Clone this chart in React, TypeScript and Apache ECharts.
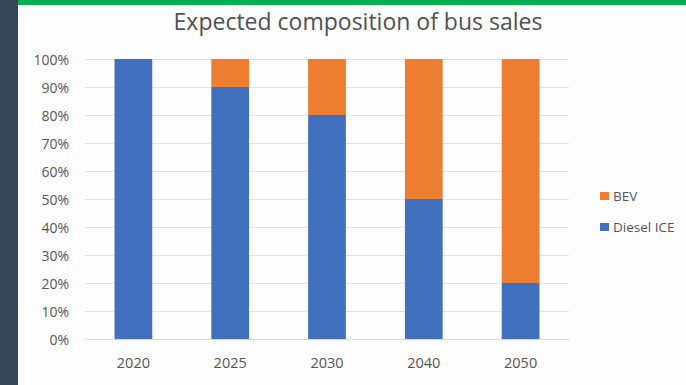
import React, { useEffect, useRef } from "react";
import * as echarts from "echarts";

const categories = ["2020", "2025", "2030", "2040", "2050"];
const dieselIce = [100, 90, 80, 50, 20];
const bev = [0, 10, 20, 50, 80];
const titleText = "Expected composition of bus sales";

export default function App() {
  const ref = useRef<HTMLDivElement>(null);
  useEffect(() => {
    if (!ref.current) return;
    const chart = echarts.init(ref.current, null, { renderer: "svg" });
    const font = "'Open Sans', 'Noto Sans', sans-serif";
    const textColor = "#555555";
    chart.setOption({
      animation: false,
      backgroundColor: "#fdfdfd",
      textStyle: { fontFamily: font },
      graphic: [
        { type: "rect", left: 0, top: 0, shape: { x: 0, y: 0, width: 686, height: 5 }, style: { fill: "#00b050" }, z: 10 },
        { type: "rect", left: 0, top: 0, shape: { x: 0, y: 0, width: 18, height: 385 }, style: { fill: "#37475a" }, z: 10 },
        {
          type: "text",
          x: 358,
          y: 21,
          style: {
            text: titleText,
            fontSize: 23,
            fontFamily: font,
            fill: "#505050",
            align: "center",
            verticalAlign: "middle",
          },
        },
      ],
      legend: {
        orient: "vertical",
        left: 595,
        top: 184,
        itemWidth: 9,
        itemHeight: 8,
        itemGap: 17,
        icon: "rect",
        data: ["BEV", "Diesel ICE"],
        textStyle: { fontSize: 13.5, color: textColor, fontFamily: font, padding: [0, 0, 0, -1] },
      },
      grid: { left: 85, right: 117, top: 59, bottom: 46, containLabel: false },
      xAxis: {
        type: "category",
        data: categories,
        axisLine: { lineStyle: { color: "#d9d9d9" } },
        axisTick: { show: false },
        axisLabel: { color: textColor, fontSize: 14.5, margin: 16 },
      },
      yAxis: {
        type: "value",
        min: 0,
        max: 100,
        interval: 10,
        axisLine: { show: false },
        axisTick: { show: false },
        axisLabel: { formatter: "{value}%", color: textColor, fontSize: 14, margin: 16 },
        splitLine: { lineStyle: { color: "#e3e3e3" } },
      },
      series: [
        {
          name: "Diesel ICE",
          type: "bar",
          stack: "total",
          data: dieselIce,
          barWidth: "39%",
          itemStyle: { color: "#4170be" },
        },
        {
          name: "BEV",
          type: "bar",
          stack: "total",
          data: bev,
          barWidth: "39%",
          itemStyle: { color: "#ed7d31" },
        },
      ],
    });
    return () => chart.dispose();
  }, []);
  return (
    <div
      ref={ref}
      style={{ position: "absolute", left: 0, top: 0, width: 686, height: 385 }}
    />
  );
}
